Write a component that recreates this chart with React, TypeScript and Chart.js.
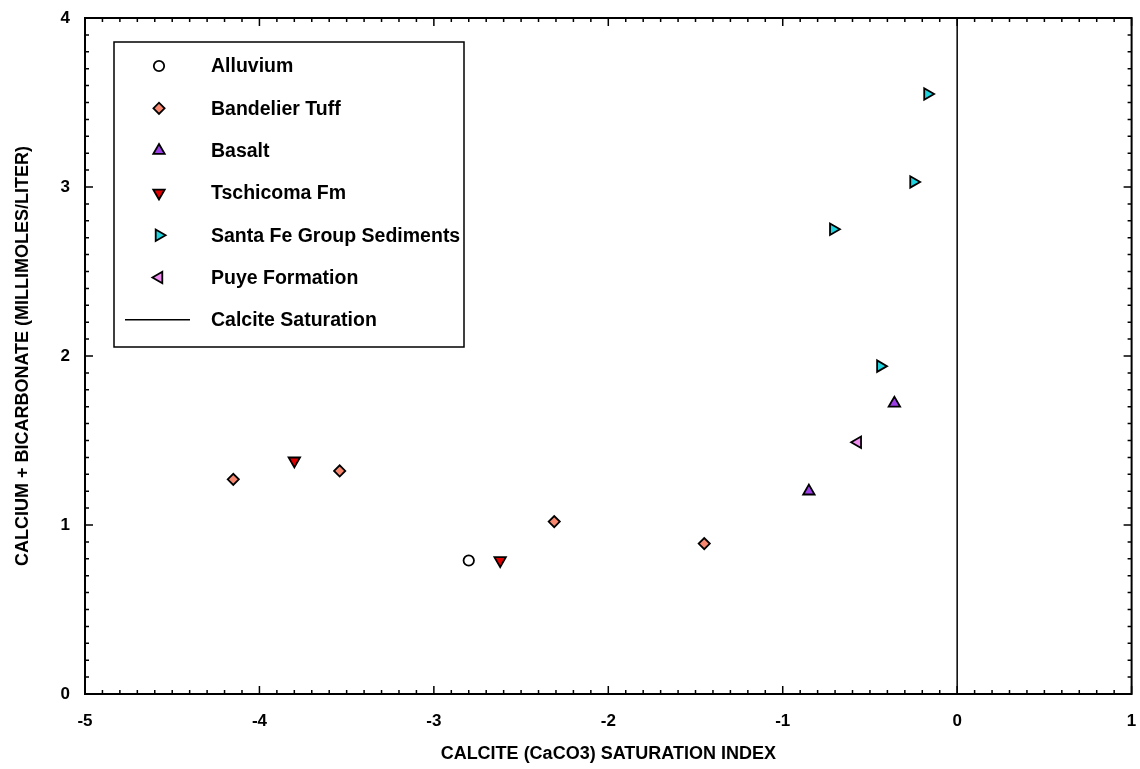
import React, { useEffect, useRef } from "react";
import { Chart, registerables } from "chart.js";
import { drawPoint } from "chart.js/helpers";

Chart.register(...registerables);

const alluviumX = [-2.8];
const alluviumY = [0.79];
const bandelierX = [-4.15, -3.54, -2.31, -1.45];
const bandelierY = [1.27, 1.32, 1.02, 0.89];
const basaltX = [-0.85, -0.36];
const basaltY = [1.2, 1.72];
const tschicomaX = [-3.8, -2.62];
const tschicomaY = [1.38, 0.79];
const santaFeX = [-0.71, -0.44, -0.25, -0.17];
const santaFeY = [2.75, 1.94, 3.03, 3.55];
const puyeX = [-0.57];
const puyeY = [1.49];
const saturationX = [0, 0];
const saturationY = [0, 4];

const xTicks = [-5, -4, -3, -2, -1, 0, 1];
const yTicks = [0, 1, 2, 3, 4];

const FONT = "'Liberation Sans', Arial, sans-serif";

const toPts = (xs: number[], ys: number[]) => xs.map((x, i) => ({ x, y: ys[i] }));

const framePlugin = {
  id: "frameTicks",
  afterDraw(chart: any) {
    const { ctx, chartArea } = chart;
    const xs = chart.scales.x;
    const ys = chart.scales.y;
    const { left, right, top, bottom } = chartArea;
    ctx.save();
    ctx.strokeStyle = "#000";
    ctx.lineWidth = 2;
    ctx.strokeRect(left, top, right - left, bottom - top);
    ctx.lineWidth = 1.5;
    ctx.beginPath();
    for (let i = -50; i <= 10; i++) {
      const v = i / 10;
      const px = xs.getPixelForValue(v);
      const len = i % 10 === 0 ? 8 : 4;
      ctx.moveTo(px, bottom);
      ctx.lineTo(px, bottom - len);
      ctx.moveTo(px, top);
      ctx.lineTo(px, top + len);
    }
    for (let i = 0; i <= 40; i++) {
      const v = i / 10;
      const py = ys.getPixelForValue(v);
      const len = i % 10 === 0 ? 8 : 4;
      ctx.moveTo(left, py);
      ctx.lineTo(left + len, py);
      ctx.moveTo(right, py);
      ctx.lineTo(right - len, py);
    }
    ctx.stroke();

    // legend box
    const bx = left + 29;
    const by = top + 24;
    const bw = 350;
    const bh = 305;
    ctx.lineWidth = 1.5;
    ctx.strokeRect(bx, by, bw, bh);
    const items = chart.data.datasets;
    ctx.font = `bold 19.5px ${FONT}`;
    ctx.textBaseline = "middle";
    ctx.textAlign = "left";
    items.forEach((ds: any, i: number) => {
      const cy = by + 24 + i * 42.3;
      if (ds.type === "line") {
        ctx.strokeStyle = ds.borderColor;
        ctx.lineWidth = 1.5;
        ctx.beginPath();
        ctx.moveTo(bx + 11, cy);
        ctx.lineTo(bx + 76, cy);
        ctx.stroke();
      } else {
        ctx.fillStyle = ds.backgroundColor;
        ctx.strokeStyle = ds.borderColor;
        ctx.lineWidth = ds.borderWidth;
        drawPoint(ctx, { pointStyle: ds.pointStyle, rotation: ds.rotation || 0, radius: ds.pointRadius, borderWidth: ds.borderWidth } as any, bx + 45, cy);
      }
      ctx.fillStyle = "#000";
      ctx.fillText(ds.label, bx + 97, cy + 1);
    });
    ctx.restore();
  },
};

export default function App() {
  const ref = useRef<HTMLCanvasElement>(null);
  useEffect(() => {
    if (!ref.current) return;
    const mk = (label: string, xs: number[], ys: number[], color: string, style: string, rot: number, r: number) => ({
      type: "scatter" as const,
      label,
      data: toPts(xs, ys),
      backgroundColor: color,
      borderColor: "#000",
      borderWidth: 1.8,
      pointStyle: style,
      rotation: rot,
      pointRadius: r,
      pointHoverRadius: r,
    });
    const chart = new Chart(ref.current, {
      type: "scatter",
      data: {
        datasets: [
          mk("Alluvium", alluviumX, alluviumY, "#ffffff", "circle", 0, 5.2),
          mk("Bandelier Tuff", bandelierX, bandelierY, "#f7876f", "rectRot", 0, 5.6),
          mk("Basalt", basaltX, basaltY, "#9d3fe6", "triangle", 0, 6.6),
          mk("Tschicoma Fm", tschicomaX, tschicomaY, "#e00000", "triangle", 180, 6.6),
          mk("Santa Fe Group Sediments", santaFeX, santaFeY, "#1fd3df", "triangle", 90, 6.6),
          mk("Puye Formation", puyeX, puyeY, "#f08ef0", "triangle", 270, 6.6),
          {
            type: "line" as const,
            label: "Calcite Saturation",
            data: toPts(saturationX, saturationY),
            borderColor: "#000",
            borderWidth: 1.5,
            pointRadius: 0,
            showLine: true,
            fill: false,
          } as any,
        ],
      },
      options: {
        responsive: false,
        animation: false,
        layout: { padding: { left: 0, top: 18, right: 8, bottom: 0 } },
        plugins: { legend: { display: false }, tooltip: { enabled: false } },
        scales: {
          x: {
            type: "linear",
            min: -5,
            max: 1,
            afterBuildTicks: (s: any) => {
              s.ticks = xTicks.map((v) => ({ value: v }));
            },
            afterFit: (s: any) => {
              s.height = 75;
            },
            grid: { display: false, drawTicks: true, tickLength: 17 },
            border: { display: false },
            ticks: { color: "#000", font: { family: FONT, size: 17, weight: "bold" }, padding: 0, maxRotation: 0 },
            title: {
              display: true,
              text: "CALCITE (CaCO3) SATURATION INDEX",
              color: "#000",
              font: { family: FONT, size: 18, weight: "bold" },
              padding: { top: 0, bottom: 4 },
            },
          },
          y: {
            type: "linear",
            min: 0,
            max: 4,
            afterBuildTicks: (s: any) => {
              s.ticks = yTicks.map((v) => ({ value: v }));
            },
            afterFit: (s: any) => {
              s.width = 85;
            },
            grid: { display: false, drawTicks: true, tickLength: 15 },
            border: { display: false },
            ticks: { color: "#000", font: { family: FONT, size: 17, weight: "bold" }, padding: 0 },
            title: {
              display: true,
              text: "CALCIUM + BICARBONATE (MILLIMOLES/LITER)",
              color: "#000",
              font: { family: FONT, size: 18, weight: "bold" },
              padding: { top: 12, bottom: 0 },
            },
          },
        },
      },
      plugins: [framePlugin],
    } as any);
    return () => chart.destroy();
  }, []);
  return (
    <div style={{ position: "absolute", left: 0, top: 0, width: 1140, height: 769, background: "#fff" }}>
      <canvas ref={ref} width={1140} height={769} style={{ display: "block", width: 1140, height: 769 }} />
    </div>
  );
}
